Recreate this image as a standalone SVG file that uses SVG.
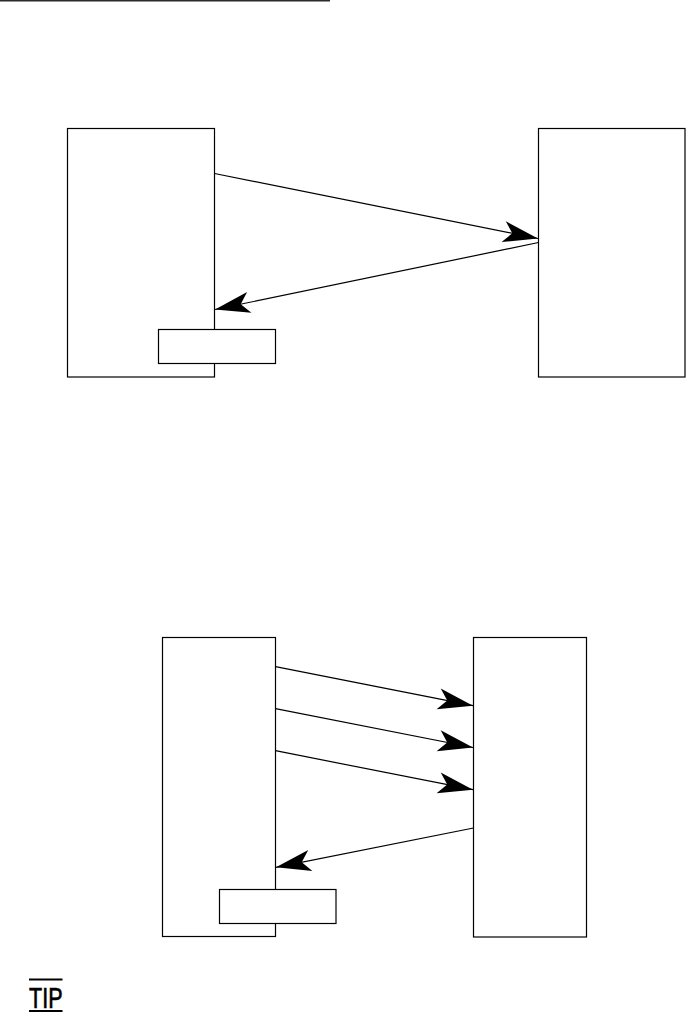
<svg xmlns="http://www.w3.org/2000/svg" width="686" height="1012" viewBox="0 0 686 1012">
<style>
.box{fill:#fff;stroke:#000;stroke-width:1.2}
.conn{fill:none;stroke:#000;stroke-width:1.2}
.tip{font-family:"Liberation Sans",Arial,sans-serif;font-size:29px;fill:#000;stroke:#000;stroke-width:0.7}
</style>
<defs>
<marker id="ah" markerUnits="userSpaceOnUse" markerWidth="40" markerHeight="40" viewBox="-30 -10 32 20" refX="0" refY="0" orient="auto">
<path d="M0,0 L-28,-8.5 L-21,0 L-28,8.5 Z" fill="#000"/>
</marker>
</defs>
<rect width="686" height="1012" fill="#fff"/>
<line x1="0" y1="0.8" x2="330" y2="0.8" stroke="#2b2b2b" stroke-width="1.6"/>

<g id="top-left"><rect class="box" x="67.5" y="128.5" width="147" height="248.5"/></g>
<g id="top-right"><rect class="box" x="538.5" y="128.5" width="146.5" height="248.5"/></g>
<g id="top-label"><rect class="box" x="158.5" y="329.5" width="117" height="34"/></g>

<g id="bottom-left"><rect class="box" x="162.5" y="637.5" width="113" height="299"/></g>
<g id="bottom-right"><rect class="box" x="473.5" y="637.5" width="113" height="299.5"/></g>
<g id="bottom-label"><rect class="box" x="219.5" y="889.5" width="116.5" height="34"/></g>

<g id="connectors">
<line class="conn" x1="214.5" y1="173.5" x2="538" y2="238.5" marker-end="url(#ah)"/>
<line class="conn" x1="538.5" y1="242.5" x2="215" y2="309.5" marker-end="url(#ah)"/>
<line class="conn" x1="275.5" y1="666.7" x2="473" y2="705.7" marker-end="url(#ah)"/>
<line class="conn" x1="275.5" y1="708.7" x2="473" y2="747.5" marker-end="url(#ah)"/>
<line class="conn" x1="275.5" y1="750.7" x2="473" y2="789.7" marker-end="url(#ah)"/>
<line class="conn" x1="473.5" y1="828" x2="276" y2="867.3" marker-end="url(#ah)"/>
</g>

<g id="tip">
<line x1="29" y1="979.5" x2="62.5" y2="979.5" stroke="#000" stroke-width="1.8"/>
<text class="tip" x="29" y="1007.5" textLength="33.5" lengthAdjust="spacingAndGlyphs">TIP</text>
<line x1="29" y1="1011" x2="62.5" y2="1011" stroke="#000" stroke-width="1.8"/>
</g>
</svg>
